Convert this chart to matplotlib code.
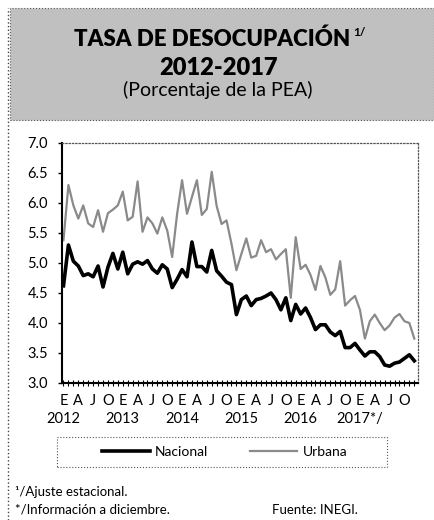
import numpy as np
import matplotlib.pyplot as plt
from matplotlib.patches import Rectangle
from matplotlib.lines import Line2D

plt.rcParams['font.family'] = ['Lato', 'DejaVu Sans']

# Tasa de desocupacion mensual, ene 2012 - dic 2017 (ajuste estacional)
nacional = [4.62, 5.30, 5.03, 4.95, 4.79, 4.82, 4.77, 4.95, 4.60, 4.93, 5.16, 4.90,
            5.18, 4.82, 4.98, 5.02, 4.98, 5.04, 4.90, 4.83, 4.97, 4.90, 4.59, 4.73,
            4.89, 4.77, 5.35, 4.94, 4.94, 4.85, 5.21, 4.87, 4.78, 4.68, 4.64, 4.14,
            4.39, 4.45, 4.29, 4.39, 4.41, 4.45, 4.50, 4.39, 4.22, 4.42, 4.04, 4.31,
            4.15, 4.25, 4.09, 3.89, 3.97, 3.97, 3.85, 3.79, 3.86, 3.59, 3.59, 3.66,
            3.55, 3.45, 3.52, 3.52, 3.44, 3.30, 3.28, 3.33, 3.35, 3.41, 3.47, 3.37]
urbana = [5.38, 6.30, 5.96, 5.74, 5.96, 5.66, 5.60, 5.88, 5.52, 5.83, 5.89, 5.96,
          6.19, 5.71, 5.77, 6.36, 5.52, 5.76, 5.66, 5.49, 5.76, 5.54, 5.10, 5.82,
          6.38, 5.82, 6.10, 6.38, 5.80, 5.90, 6.52, 5.95, 5.65, 5.71, 5.32, 4.88,
          5.15, 5.41, 5.09, 5.12, 5.38, 5.18, 5.23, 5.06, 5.15, 5.23, 4.42, 5.43,
          4.90, 4.97, 4.80, 4.55, 4.95, 4.76, 4.47, 4.56, 5.03, 4.29, 4.38, 4.45,
          4.22, 3.74, 4.03, 4.14, 4.00, 3.88, 3.96, 4.09, 4.15, 4.03, 4.00, 3.74]
meses = ["E", "A", "J", "O"]
anios = ["2012", "2013", "2014", "2015", "2016", "2017*/"]

W, H = 434, 520
fig = plt.figure(figsize=(W / 100, H / 100), dpi=100)

def fx(px):
    return px / W

def fy(py):
    return 1 - py / H

# encabezado gris
fig.patches.append(Rectangle((fx(10), fy(120)), fx(434) - fx(10), fy(8) - fy(120),
                             transform=fig.transFigure, facecolor='#c0c0c0',
                             edgecolor='#555555', lw=0.8, ls=':'))
fig.lines.append(Line2D([fx(8), fx(8)], [0, fy(8)], transform=fig.transFigure,
                        color='#444444', lw=1.0, ls=':'))

fig.text(fx(212), fy(39), "TASA DE DESOCUPACIÓN", ha='center', va='center',
         fontsize=16, fontweight='heavy')
fig.text(fx(353), fy(33), "1/", ha='left', va='center', fontsize=8.5, fontweight='bold')
fig.text(fx(218), fy(68), "2012-2017", ha='center', va='center',
         fontsize=17, fontweight='heavy')
fig.text(fx(218), fy(90), "(Porcentaje de la PEA)", ha='center', va='center', fontsize=14)

ax = fig.add_axes([fx(62), fy(383), fx(418) - fx(62), fy(143) - fy(383)])
x = np.arange(len(nacional))
ax.plot(x, urbana, color='#8a8a8a', lw=1.6, label='Urbana')
ax.plot(x, nacional, color='black', lw=2.6, label='Nacional')

ax.set_xlim(-0.3, 71.75)
ax.set_ylim(3.0, 7.0)
ax.set_yticks(np.arange(3.0, 7.01, 0.5))
ax.set_yticklabels([f"{v:.1f}" for v in np.arange(3.0, 7.01, 0.5)], fontsize=10.5)
ax.set_xticks(np.arange(0, 72, 3))
ax.set_xticklabels([meses[k % 4] for k in range(24)], fontsize=10.5)
ax.set_xticks(np.arange(0, 72), minor=True)
ax.tick_params(axis='y', length=3, width=1, pad=7)
ax.tick_params(axis='x', which='both', direction='inout', length=4, width=0.8, pad=6)

for k, a in enumerate(anios):
    ax.text(k * 12, -0.15, a, transform=ax.get_xaxis_transform(),
            ha='center', va='center', fontsize=10.5)

for s in ['left', 'bottom']:
    ax.spines[s].set_linewidth(1.5)
for s in ['top', 'right']:
    ax.spines[s].set_linestyle(':')
    ax.spines[s].set_color('#555555')
    ax.spines[s].set_linewidth(0.9)

# leyenda
fig.patches.append(Rectangle((fx(57), fy(467)), fx(387) - fx(57), fy(437) - fy(467),
                             transform=fig.transFigure, facecolor='none',
                             edgecolor='#555555', lw=0.8, ls=':'))
handles = [Line2D([], [], color='black', lw=2.6), Line2D([], [], color='#8a8a8a', lw=1.6)]
fig.legend(handles, ['Nacional', 'Urbana'], loc='center', bbox_to_anchor=(fx(225), fy(452)),
           ncol=2, frameon=False, fontsize=10, handlelength=3.4, columnspacing=3.0,
           handletextpad=0.4)

fig.text(fx(15), fy(492), "¹/Ajuste estacional.", ha='left', va='center', fontsize=9.5)
fig.text(fx(15), fy(510), "*/Información a diciembre.", ha='left', va='center', fontsize=9.5)
fig.text(fx(272), fy(510), "Fuente: INEGI.", ha='left', va='center', fontsize=9.5)

fig.savefig("out.png", dpi=100)
